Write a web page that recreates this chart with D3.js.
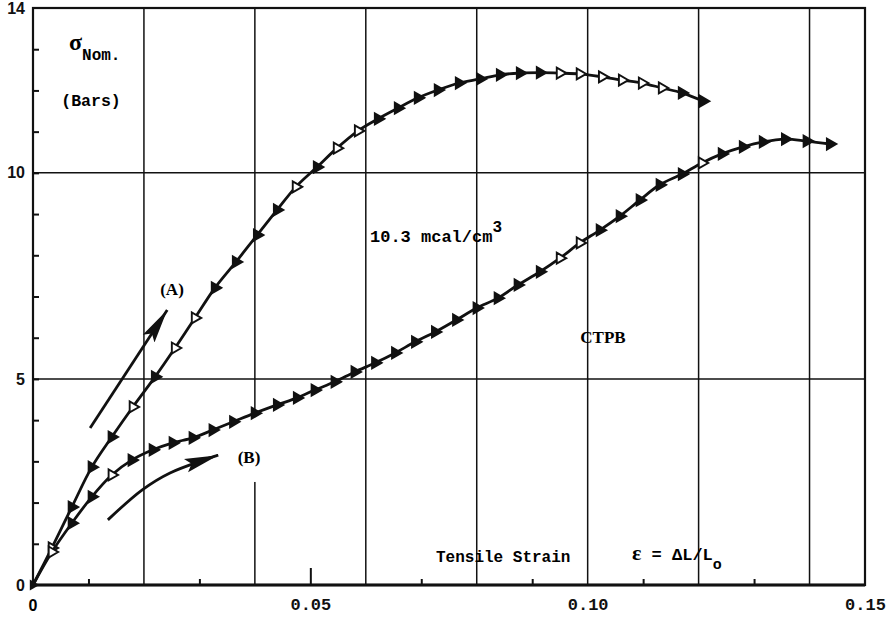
<!DOCTYPE html>
<html>
<head>
<meta charset="utf-8">
<script src="https://cdn.jsdelivr.net/npm/d3@7"></script>
<style>
  body { margin: 0; background: #fff; }
  svg { display: block; }
  .mono { font-family: "Liberation Mono", "DejaVu Sans Mono", monospace; font-weight: bold; }
  .sans { font-family: "Liberation Sans", Arial, sans-serif; font-weight: bold; }
  .serif { font-family: "Liberation Serif", "Times New Roman", serif; font-weight: bold; }
</style>
</head>
<body>
<svg id="chart" width="896" height="623"></svg>
<script>
// curve (A): loading path, strain vs nominal stress (bars)
const strainA = [0, 0.0034, 0.0070, 0.0106, 0.0142, 0.0180, 0.0220, 0.0256, 0.0292, 0.0328, 0.0366, 0.0404,
  0.0440, 0.0474, 0.0512, 0.0548, 0.0586, 0.0622, 0.0658, 0.0694, 0.0730, 0.0768, 0.0806, 0.0842,
  0.0878, 0.0914, 0.0950, 0.0986, 0.1026, 0.1062, 0.1098, 0.1134, 0.1170, 0.1208];
const stressA = [0, 0.90, 1.89, 2.86, 3.59, 4.32, 5.05, 5.75, 6.48, 7.21, 7.84, 8.49,
  9.10, 9.66, 10.14, 10.60, 11.02, 11.31, 11.57, 11.82, 12.01, 12.18, 12.28, 12.38,
  12.42, 12.43, 12.42, 12.40, 12.33, 12.25, 12.18, 12.06, 11.94, 11.74];
const openA = [0, 1, 0, 0, 0, 1, 0, 1, 1, 0, 0, 0,
  0, 1, 0, 1, 1, 0, 0, 0, 0, 0, 0, 0,
  0, 0, 1, 1, 1, 1, 1, 1, 0, 0];

// curve (B)
const strainB = [0, 0.0034, 0.0070, 0.0106, 0.0142, 0.0178, 0.0216, 0.0252, 0.0288, 0.0324, 0.0361, 0.0400,
  0.0440, 0.0476, 0.0508, 0.0544, 0.0580, 0.0617, 0.0653, 0.0689, 0.0725, 0.0763, 0.0800, 0.0838,
  0.0874, 0.0914, 0.0950, 0.0986, 0.1022, 0.1058, 0.1094, 0.1130, 0.1170, 0.1206, 0.1242, 0.1280,
  0.1316, 0.1356, 0.1395, 0.1437];
const stressB = [0, 0.80, 1.50, 2.14, 2.67, 3.03, 3.28, 3.45, 3.57, 3.76, 3.96, 4.17,
  4.37, 4.54, 4.73, 4.93, 5.17, 5.39, 5.63, 5.90, 6.14, 6.43, 6.72, 6.96,
  7.28, 7.60, 7.93, 8.30, 8.61, 8.95, 9.34, 9.71, 9.97, 10.24, 10.46, 10.63,
  10.75, 10.82, 10.77, 10.70];
const openB = [0, 1, 0, 0, 1, 0, 0, 0, 0, 0, 0, 0,
  0, 0, 0, 0, 0, 0, 0, 0, 0, 0, 0, 0,
  0, 0, 1, 1, 0, 0, 0, 0, 0, 1, 0, 0,
  0, 0, 0, 0];

// axis ticks
const xGrid = [0.02, 0.04, 0.06, 0.08, 0.10, 0.12, 0.14];
const xMinor = [0.01, 0.03, 0.07, 0.09, 0.11, 0.13];
const xLongTick = [0.05];
const xLabels = [0.05, 0.10, 0.15];
const yGrid = [5, 10];
const yLabels = [0, 5, 10, 14];
const yMinor = d3.range(1, 14);

// direction arrows drawn beside the curves
const arrowA = [[0.0103, 3.81], [0.0242, 6.67]];
const arrowB = [[0.0135, 1.58], [0.0197, 2.31], [0.0247, 2.72], [0.0334, 3.15]];

const svg = d3.select("#chart");
const x = d3.scaleLinear().domain([0, 0.15]).range([33, 865]);
const y = d3.scaleLinear().domain([0, 14]).range([585, 8]);

// grid
svg.append("g").selectAll("line").data(xGrid).join("line")
  .attr("x1", d => x(d)).attr("x2", d => x(d))
  .attr("y1", y(14)).attr("y2", y(0))
  .attr("stroke", "#111").attr("stroke-width", 1.5);
// the 0.04 line is broken around the (B) label
svg.append("rect").attr("x", x(0.04) - 2).attr("width", 4)
  .attr("y", y(4.1)).attr("height", y(2.5) - y(4.1)).attr("fill", "#fff");
svg.append("g").selectAll("line").data(yGrid).join("line")
  .attr("x1", x(0)).attr("x2", x(0.15))
  .attr("y1", d => y(d)).attr("y2", d => y(d))
  .attr("stroke", "#111").attr("stroke-width", 1.5);

// frame
svg.append("rect").attr("x", x(0)).attr("y", y(14))
  .attr("width", x(0.15) - x(0)).attr("height", y(0) - y(14))
  .attr("fill", "none").attr("stroke", "#111").attr("stroke-width", 2.2);
svg.append("line").attr("x1", x(0)).attr("x2", x(0.15)).attr("y1", y(0)).attr("y2", y(0))
  .attr("stroke", "#111").attr("stroke-width", 2.8);

// inward ticks
svg.append("g").attr("transform", `translate(${x(0)},0)`)
  .call(d3.axisRight(y).tickValues(yMinor).tickSize(6).tickFormat(""))
  .call(g => g.select(".domain").remove())
  .call(g => g.selectAll("line").attr("stroke", "#111").attr("stroke-width", 2));
svg.append("g").attr("transform", `translate(0,${y(0)})`)
  .call(d3.axisTop(x).tickValues(xMinor).tickSize(6).tickFormat(""))
  .call(g => g.select(".domain").remove())
  .call(g => g.selectAll("line").attr("stroke", "#111").attr("stroke-width", 2));
svg.append("g").attr("transform", `translate(0,${y(0)})`)
  .call(d3.axisTop(x).tickValues(xLongTick).tickSize(17).tickFormat(""))
  .call(g => g.select(".domain").remove())
  .call(g => g.selectAll("line").attr("stroke", "#111").attr("stroke-width", 2));

// tick labels
svg.append("g").attr("transform", `translate(${x(0)},0)`)
  .call(d3.axisLeft(y).tickValues(yLabels).tickSize(0).tickPadding(8).tickFormat(d3.format("d")))
  .call(g => g.select(".domain").remove())
  .call(g => g.selectAll("text").attr("class", "sans").attr("font-size", 16).attr("fill", "#111"));
svg.append("text").attr("class", "sans").attr("x", x(0)).attr("y", 611)
  .attr("text-anchor", "middle").attr("font-size", 16).text("0");
svg.append("g").attr("transform", `translate(0,${y(0)})`)
  .call(d3.axisBottom(x).tickValues(xLabels).tickSize(0).tickPadding(13).tickFormat(d3.format(".2f")))
  .call(g => g.select(".domain").remove())
  .call(g => g.selectAll("text").attr("class", "mono").attr("font-size", 17).attr("fill", "#111"));

// curves
const line = d3.line().x(d => x(d[0])).y(d => y(d[1])).curve(d3.curveCatmullRom);
const ptsA = strainA.map((s, i) => [s, stressA[i], openA[i]]);
const ptsB = strainB.map((s, i) => [s, stressB[i], openB[i]]);

[ptsA, ptsB].forEach(pts => {
  svg.append("path").datum(pts).attr("d", line)
    .attr("fill", "none").attr("stroke", "#111").attr("stroke-width", 2.8);
  svg.append("g").selectAll("path").data(pts.slice(1)).join("path")
    .attr("d", d3.symbol(d3.symbolTriangle, 52))
    .attr("transform", d => `translate(${x(d[0])},${y(d[1])}) rotate(90)`)
    .attr("fill", d => d[2] ? "#fff" : "#111")
    .attr("stroke", "#111").attr("stroke-width", 1.9);
});
// origin blob
svg.append("path").attr("d", d3.symbol(d3.symbolTriangle, 52))
  .attr("transform", `translate(${x(0)},${y(0)}) rotate(90)`).attr("fill", "#111");

// arrows
const defs = svg.append("defs");
defs.append("marker").attr("id", "head").attr("markerUnits", "userSpaceOnUse")
  .attr("markerWidth", 40).attr("markerHeight", 18).attr("refX", 34).attr("refY", 8)
  .attr("orient", "auto")
  .append("path").attr("d", "M0,1 L34,8 L0,15 L6,8 Z").attr("fill", "#111");

const arrowLine = d3.line().x(d => x(d[0])).y(d => y(d[1])).curve(d3.curveCatmullRom);
svg.append("path").datum(arrowA).attr("d", arrowLine)
  .attr("fill", "none").attr("stroke", "#111").attr("stroke-width", 2.8)
  .attr("marker-end", "url(#head)");
svg.append("path").datum(arrowB).attr("d", arrowLine)
  .attr("fill", "none").attr("stroke", "#111").attr("stroke-width", 2.8)
  .attr("marker-end", "url(#head)");

// annotations
svg.append("text").attr("class", "serif").attr("x", 172).attr("y", 295)
  .attr("text-anchor", "middle").attr("font-size", 17).text("(A)");
svg.append("text").attr("class", "serif").attr("x", 249).attr("y", 463)
  .attr("text-anchor", "middle").attr("font-size", 17).text("(B)");
svg.append("text").attr("class", "serif").attr("x", 603).attr("y", 343)
  .attr("text-anchor", "middle").attr("font-size", 17).text("CTPB");

const t1 = svg.append("text").attr("class", "mono").attr("x", 370).attr("y", 242).attr("font-size", 17);
t1.append("tspan").text("10.3 mcal/cm");
t1.append("tspan").attr("dy", -10).attr("font-size", 16).text("3");

const sig = svg.append("text").attr("x", 69).attr("y", 50);
sig.append("tspan").attr("class", "serif").attr("font-weight", "normal").attr("font-size", 24).text("σ");
sig.append("tspan").attr("class", "mono").attr("dy", 10).attr("font-size", 16).text("Nom.");
svg.append("text").attr("class", "mono").attr("x", 91).attr("y", 106)
  .attr("text-anchor", "middle").attr("font-size", 16.5).text("(Bars)");

svg.append("text").attr("class", "mono").attr("x", 436).attr("y", 562)
  .attr("font-size", 16).text("Tensile Strain");
const eps = svg.append("text").attr("x", 632).attr("y", 560);
eps.append("tspan").attr("class", "serif").attr("font-size", 22).text("ε");
eps.append("tspan").attr("class", "mono").attr("font-size", 17).text(" = ΔL/L");
eps.append("tspan").attr("class", "mono").attr("font-size", 15).attr("dy", 9).text("o");
</script>
</body>
</html>
